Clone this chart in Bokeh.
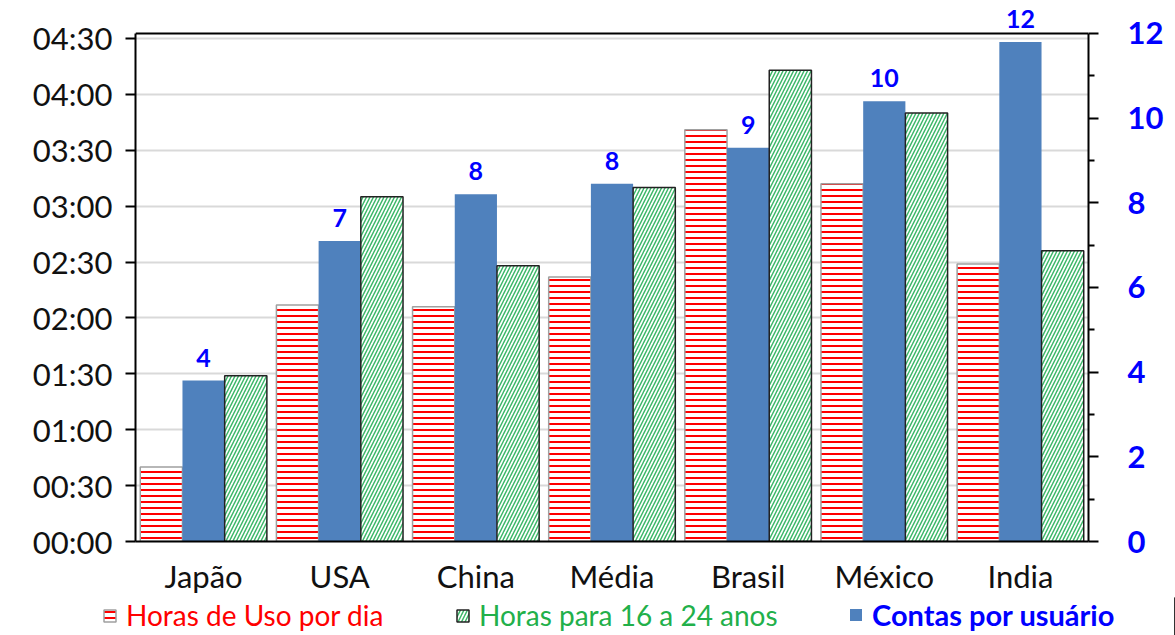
from bokeh.plotting import figure
from bokeh.models import (ColumnDataSource, Range1d, LinearAxis, FixedTicker,
                          Legend, LegendItem, LabelSet, Span)
from bokeh.layouts import column
from bokeh.transform import dodge
from bokeh.core.properties import value
from bokeh.embed import file_html
from bokeh.resources import INLINE

categories = ["Japão", "USA", "China", "Média", "Brasil", "México", "India"]
horas_uso_min = [40, 127, 126, 142, 221, 192, 149]
horas_16_24_min = [89, 185, 148, 190, 253, 230, 156]
contas_por_usuario = [3.8, 7.1, 8.2, 8.45, 9.3, 10.4, 11.8]
contas_labels = ["4", "7", "8", "8", "9", "10", "12"]
time_ticks = [0, 30, 60, 90, 120, 150, 180, 210, 240, 270]
time_tick_labels = ["00:00", "00:30", "01:00", "01:30", "02:00",
                    "02:30", "03:00", "03:30", "04:00", "04:30"]
count_ticks = [0, 2, 4, 6, 8, 10, 12]
legend_labels = ["Horas de Uso por dia", "Horas para 16 a 24 anos", "Contas por usuário"]

FONT = "Lato"
RED = "#FF0000"
GREEN = "#3DB86A"
BLUE = "#4F81BD"
LBLUE = "#0000FF"

src = ColumnDataSource(dict(cat=categories, uso=horas_uso_min, jov=horas_16_24_min,
                            contas=contas_por_usuario, lab=contas_labels))

# frame top is raised above the chart border so the "12" label is not clipped
p = figure(x_range=categories, y_range=Range1d(0, 287.7), width=1175, height=597,
           output_backend="svg", toolbar_location=None, frame_align=False,
           min_border_left=135, min_border_right=87, min_border_top=5, min_border_bottom=56)
p.extra_y_ranges = {"contas": Range1d(0, 12.66)}

uso_style = dict(fill_color="white", line_color="#A0A0A0", line_width=1.5,
                 hatch_pattern="horizontal_line", hatch_color=RED, hatch_scale=6, hatch_weight=2)
jov_style = dict(fill_color="white", line_color="#222222", line_width=1.5,
                 hatch_pattern="right_diagonal_line", hatch_color=GREEN, hatch_scale=7,
                 hatch_weight=1.5)
contas_style = dict(fill_color=BLUE, line_color=None)

p.vbar(x=dodge("cat", -0.31, range=p.x_range), top="uso", width=0.31, source=src, **uso_style)
p.vbar(x=dodge("cat", 0.0, range=p.x_range), top="contas", width=0.31, source=src,
       y_range_name="contas", **contas_style)
p.vbar(x=dodge("cat", 0.31, range=p.x_range), top="jov", width=0.31, source=src, **jov_style)

labels = LabelSet(x=dodge("cat", 0.0, range=p.x_range), y="contas", text="lab", source=src,
                  y_range_name="contas", y_offset=14, text_align="center",
                  text_baseline="bottom", text_color=LBLUE, text_font=value(FONT),
                  text_font_style="bold", text_font_size="25px")
p.add_layout(labels)

p.add_layout(Span(location=12, dimension="width", y_range_name="contas",
                  line_color="black", line_width=2))

p.outline_line_color = None
p.xgrid.grid_line_color = None
p.ygrid.grid_line_color = "#D9D9D9"
p.ygrid.grid_line_width = 2
p.background_fill_color = "white"
p.border_fill_color = "white"

# left axis
ya = p.yaxis[0]
ya.ticker = FixedTicker(ticks=time_ticks)
ya.bounds = (0, 272.7)
ya.major_label_overrides = {t: l for t, l in zip(time_ticks, time_tick_labels)}
ya.axis_line_color = "black"
ya.axis_line_width = 2
ya.major_tick_line_color = "black"
ya.major_tick_line_width = 2
ya.major_tick_out = 10
ya.major_tick_in = 0
ya.minor_tick_line_color = None
ya.major_label_text_font = FONT
ya.major_label_text_font_size = "31px"
ya.major_label_text_color = "#111111"
ya.major_label_standoff = 13

# x axis
xa = p.xaxis[0]
xa.axis_line_color = "black"
xa.axis_line_width = 2
xa.major_tick_line_color = None
xa.major_tick_out = 0
xa.major_tick_in = 0
xa.major_label_text_font = FONT
xa.major_label_text_font_size = "31px"
xa.major_label_text_color = "#111111"
xa.major_label_standoff = 15

# right axis
ra = LinearAxis(y_range_name="contas", ticker=FixedTicker(ticks=count_ticks,
                minor_ticks=[1, 3, 5, 7, 9, 11]), bounds=(0, 12))
ra.axis_line_color = "black"
ra.axis_line_width = 2
ra.major_tick_line_color = "black"
ra.major_tick_line_width = 2
ra.major_tick_out = 10
ra.major_tick_in = 0
ra.minor_tick_line_color = "black"
ra.minor_tick_line_width = 2
ra.minor_tick_out = 6
ra.minor_tick_in = 0
ra.major_label_text_font = FONT
ra.major_label_text_font_size = "31px"
ra.major_label_text_font_style = "bold"
ra.major_label_text_color = LBLUE
ra.major_label_standoff = 29
p.add_layout(ra, "right")

# legend strip (its renderers sit outside the visible x range; only the legend shows)
lp = figure(width=1175, height=38, x_range=Range1d(-300, -200), y_range=Range1d(0, 1),
            output_backend="svg", toolbar_location=None, frame_align=False,
            min_border_left=0, min_border_right=0, min_border_top=0, min_border_bottom=0)
lp.axis.visible = False
lp.grid.grid_line_color = None
lp.outline_line_color = None
lp.border_fill_color = "white"
lr_uso = lp.vbar(x="contas", top="uso", width=0.1, source=src, **uso_style)
lr_jov = lp.vbar(x="contas", top="jov", width=0.1, source=src, **jov_style)
lr_contas = lp.vbar(x="contas", top="contas", width=0.1, source=src, **contas_style)

def mk_legend(label, renderer, color, style, x, size):
    lg = Legend(items=[LegendItem(label=label, renderers=[renderer], index=0)],
                location=(x, 3), orientation="horizontal",
                label_text_color=color, label_text_font=FONT, label_text_font_size=size,
                label_text_font_style=style,
                glyph_width=15, glyph_height=15,
                label_standoff=9, padding=0, margin=0, spacing=0,
                border_line_color=None, background_fill_alpha=0)
    lp.add_layout(lg, "center")

mk_legend(legend_labels[0], lr_uso, RED, "normal", 102, "28px")
mk_legend(legend_labels[1], lr_jov, "#22B04A", "normal", 455, "28px")
mk_legend(legend_labels[2], lr_contas, LBLUE, "bold", 848, "29px")

open("out.html", "w").write(file_html(column(p, lp, spacing=0), INLINE))
